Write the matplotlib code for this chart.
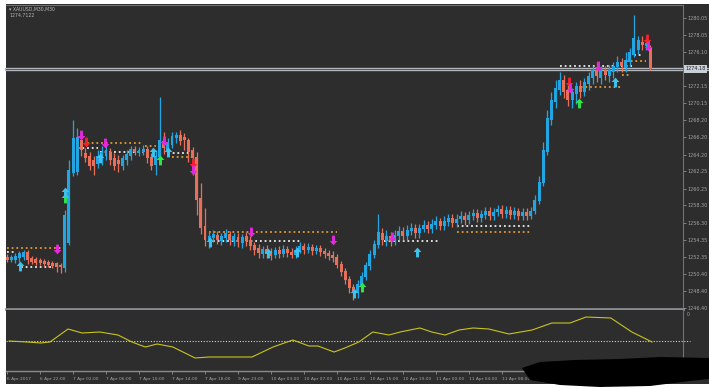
import matplotlib.pyplot as plt
import matplotlib.transforms as mtransforms
from matplotlib.patches import Rectangle, Polygon
from matplotlib.path import Path
import numpy as np

# ---- XAUUSD M30 candles ----
opens = [1252.3, 1252.0, 1252.0, 1252.2, 1252.3, 1252.9, 1252.2, 1252.1, 1252.0, 1251.9,
         1251.7, 1251.6, 1251.6, 1251.4, 1251.0, 1253.9, 1262.1, 1262.2, 1265.9, 1264.4,
         1264.0, 1263.6, 1263.1, 1263.6, 1264.0, 1264.5, 1263.8, 1263.6, 1262.9, 1263.6,
         1264.0, 1264.8, 1264.4, 1264.5, 1264.8, 1263.9, 1263.0, 1263.9, 1265.8, 1264.7,
         1265.3, 1266.1, 1266.5, 1266.2, 1265.9, 1264.7, 1263.9, 1259.2, 1255.9, 1254.1,
         1254.5, 1254.9, 1254.2, 1254.5, 1255.0, 1254.2, 1254.6, 1253.9, 1254.8, 1254.3,
         1253.7, 1253.4, 1252.7, 1253.2, 1252.9, 1252.6, 1253.1, 1252.7, 1253.2, 1252.9,
         1252.6, 1253.1, 1253.6, 1253.1, 1253.5, 1253.0, 1253.4, 1253.0, 1252.8, 1252.6,
         1252.3, 1251.5, 1250.7, 1249.8, 1248.8, 1248.2, 1249.1, 1250.0, 1251.3, 1252.6,
         1253.7, 1255.1, 1254.2, 1254.8, 1254.2, 1254.8, 1255.3, 1254.8, 1255.3, 1255.7,
         1255.1, 1255.6, 1256.0, 1255.6, 1256.0, 1256.5, 1255.9, 1256.4, 1256.8, 1256.3,
         1256.7, 1257.1, 1256.6, 1257.1, 1257.4, 1256.8, 1257.2, 1257.6, 1257.1, 1257.5,
         1257.9, 1257.3, 1257.8, 1257.2, 1257.6, 1257.1, 1257.5, 1257.1, 1257.6, 1258.8,
         1260.9, 1264.5, 1268.2, 1270.3, 1271.7, 1272.8, 1271.7, 1270.5, 1271.2, 1272.2,
         1271.5, 1272.4, 1273.1, 1274.0, 1273.1, 1274.0, 1273.3, 1273.8, 1274.4, 1274.9,
         1274.2, 1274.9, 1275.8, 1276.3, 1277.3, 1276.8, 1276.6]
highs = [1252.7, 1252.6, 1252.8, 1253.0, 1253.1, 1253.1, 1252.4, 1252.3, 1252.2, 1252.1,
         1252.0, 1251.9, 1251.7, 1251.6, 1257.8, 1263.6, 1268.2, 1267.3, 1266.8, 1265.0,
         1264.5, 1264.0, 1264.7, 1265.2, 1265.5, 1265.0, 1264.4, 1264.1, 1264.1, 1264.7,
         1265.2, 1265.2, 1265.1, 1265.3, 1265.2, 1264.4, 1264.7, 1270.9, 1266.8, 1266.1,
         1266.8, 1266.8, 1267.0, 1266.7, 1266.1, 1265.1, 1264.5, 1260.9, 1258.0, 1255.2,
         1255.4, 1255.3, 1255.1, 1255.6, 1255.3, 1255.1, 1255.1, 1255.0, 1255.2, 1254.8,
         1254.1, 1253.8, 1253.6, 1253.7, 1253.4, 1253.5, 1253.6, 1253.7, 1253.6, 1253.4,
         1253.6, 1254.1, 1253.9, 1253.9, 1253.8, 1253.7, 1253.7, 1253.4, 1253.1, 1253.0,
         1252.7, 1251.9, 1251.0, 1250.1, 1249.2, 1249.7, 1250.6, 1251.7, 1253.1, 1254.3,
         1257.3, 1255.7, 1255.4, 1255.2, 1255.4, 1255.9, 1255.8, 1256.0, 1256.3, 1256.1,
         1256.1, 1256.6, 1256.5, 1256.7, 1257.1, 1256.9, 1257.1, 1257.3, 1257.3, 1257.3,
         1257.6, 1257.5, 1257.6, 1257.9, 1257.9, 1257.8, 1258.1, 1258.1, 1258.0, 1258.4,
         1258.4, 1258.2, 1258.2, 1258.1, 1258.0, 1258.0, 1258.0, 1258.1, 1259.5, 1261.7,
         1265.7, 1269.4, 1271.5, 1272.8, 1273.8, 1273.4, 1272.4, 1271.9, 1272.6, 1272.8,
         1273.1, 1273.8, 1274.5, 1274.9, 1274.5, 1274.5, 1274.6, 1274.9, 1275.6, 1275.4,
         1276.1, 1276.6, 1280.4, 1277.9, 1277.9, 1277.7, 1276.9]
lows = [1251.7, 1251.7, 1251.6, 1251.7, 1252.0, 1251.5, 1251.5, 1251.4, 1251.4, 1251.3,
        1251.2, 1251.0, 1250.6, 1250.5, 1250.6, 1253.7, 1261.7, 1261.8, 1264.0, 1263.3,
        1262.4, 1261.8, 1262.6, 1263.0, 1263.6, 1263.0, 1262.4, 1262.2, 1262.4, 1263.0,
        1263.6, 1264.1, 1264.0, 1264.1, 1263.2, 1262.4, 1261.8, 1263.3, 1264.3, 1264.3,
        1265.0, 1265.5, 1265.3, 1264.7, 1263.3, 1261.8, 1257.2, 1255.0, 1253.6, 1253.4,
        1254.1, 1253.8, 1253.7, 1254.1, 1253.7, 1253.6, 1253.5, 1253.4, 1253.6, 1253.1,
        1252.6, 1252.2, 1252.2, 1252.2, 1252.0, 1252.2, 1252.2, 1252.3, 1252.3, 1252.2,
        1252.2, 1252.8, 1252.7, 1252.8, 1252.6, 1252.7, 1252.4, 1252.2, 1252.0, 1251.7,
        1251.0, 1250.1, 1249.2, 1248.2, 1247.3, 1247.6, 1248.5, 1249.7, 1250.8, 1252.2,
        1253.4, 1253.7, 1253.6, 1253.6, 1253.7, 1254.3, 1254.3, 1254.3, 1254.9, 1254.5,
        1254.5, 1255.2, 1255.1, 1255.1, 1255.6, 1255.4, 1255.4, 1255.9, 1255.8, 1255.8,
        1256.3, 1256.0, 1256.1, 1256.6, 1256.4, 1256.4, 1256.7, 1256.6, 1256.6, 1257.1,
        1256.8, 1256.8, 1256.7, 1256.7, 1256.6, 1256.6, 1256.6, 1256.7, 1257.3, 1258.5,
        1260.6, 1264.1, 1267.6, 1269.6, 1271.1, 1270.8, 1269.8, 1269.6, 1270.1, 1270.8,
        1271.0, 1271.7, 1272.4, 1272.6, 1272.4, 1272.8, 1272.6, 1273.1, 1273.8, 1273.8,
        1273.8, 1274.5, 1275.5, 1275.9, 1276.3, 1276.3, 1274.0]
closes = [1252.0, 1252.3, 1252.4, 1252.8, 1252.9, 1252.0, 1251.7, 1251.6, 1251.6, 1251.5,
          1251.4, 1251.3, 1251.2, 1251.2, 1257.2, 1262.4, 1266.1, 1266.2, 1264.7, 1263.8,
          1262.9, 1262.9, 1264.0, 1264.5, 1264.7, 1263.6, 1262.9, 1263.1, 1263.8, 1264.3,
          1264.8, 1264.5, 1264.7, 1264.8, 1263.8, 1262.9, 1264.0, 1265.9, 1265.0, 1265.7,
          1266.4, 1266.5, 1265.8, 1265.9, 1264.5, 1263.8, 1258.9, 1255.7, 1254.3, 1254.8,
          1255.0, 1254.3, 1254.8, 1255.1, 1254.3, 1254.8, 1254.1, 1254.6, 1254.2, 1253.6,
          1253.1, 1252.8, 1253.2, 1252.7, 1252.4, 1253.1, 1252.7, 1253.2, 1252.8, 1252.6,
          1253.1, 1253.6, 1253.1, 1253.5, 1253.0, 1253.4, 1252.9, 1252.7, 1252.4, 1252.2,
          1251.4, 1250.6, 1249.7, 1248.7, 1248.2, 1249.2, 1250.1, 1251.4, 1252.7, 1253.8,
          1255.2, 1254.3, 1254.8, 1254.2, 1254.9, 1255.3, 1254.8, 1255.4, 1255.7, 1255.1,
          1255.7, 1256.0, 1255.6, 1256.1, 1256.5, 1255.9, 1256.5, 1256.8, 1256.3, 1256.7,
          1257.1, 1256.6, 1257.2, 1257.4, 1256.8, 1257.3, 1257.6, 1257.1, 1257.5, 1257.9,
          1257.3, 1257.8, 1257.2, 1257.6, 1257.1, 1257.5, 1257.1, 1257.6, 1258.9, 1261.0,
          1264.7, 1268.4, 1270.5, 1271.9, 1272.8, 1271.5, 1270.5, 1271.5, 1272.2, 1271.5,
          1272.6, 1273.3, 1274.0, 1273.3, 1274.0, 1273.4, 1274.0, 1274.5, 1274.9, 1274.5,
          1275.2, 1276.1, 1277.7, 1277.5, 1276.9, 1277.1, 1274.18]

last_price = 1274.18

# resistance (orange) / support (white) dotted levels: (bar from, bar to, price)
res_levels = [(0, 13, 1253.4), (19.5, 33, 1265.5), (33.5, 36, 1265.2), (40, 45, 1263.9),
              (49, 80, 1255.2), (109, 127, 1255.2), (138, 149, 1272.0), (149, 151, 1273.4),
              (150, 155, 1275.0)]
sup_levels = [(0, 2, 1252.9), (3.5, 11.5, 1251.2), (16, 22, 1265.0), (22.5, 33, 1264.5),
              (39, 44, 1264.4), (50, 71, 1254.2), (91.5, 105, 1254.2), (109, 127, 1255.9),
              (134, 151.5, 1274.5), (152, 154, 1275.8)]

# signal arrows: (bar, price)
buy_cyan = [(3.2, 1251.3), (14, 1259.9), (22.5, 1263.8), (35.4, 1264.5), (39, 1264.5),
            (49.2, 1254.1), (63.3, 1252.8), (70.3, 1252.9), (84.1, 1248.1), (99.4, 1252.9),
            (147.4, 1272.6)]
buy_green = [(14, 1259.2), (37.1, 1263.6), (86, 1248.8), (138.8, 1270.2)]
sell_magenta = [(12.1, 1253.2), (17.9, 1266.5), (23.8, 1265.5), (38.1, 1265.8), (45.1, 1262.4),
                (59.2, 1255.2), (79, 1254.3), (93.3, 1254.6), (136.5, 1271.9), (143.3, 1274.5),
                (155.4, 1276.8)]
sell_red = [(19.2, 1265.7), (45.1, 1263.2), (136.3, 1272.6), (155.2, 1277.6)]

# oscillator in the lower window
ind_x = [0.5, 4.8, 8.2, 10.4, 14.8, 18.2, 22.5, 26.9, 30.3, 33.5, 36.4, 40.2, 45.6, 49.0,
         55.5, 59.4, 64.5, 69.3, 73.2, 75.4, 79.3, 81.9, 85.3, 88.7, 92.6, 95.3, 100.1, 103.0,
         106.2, 109.6, 113.0, 116.8, 121.7, 127.3, 132.1, 136.5, 140.4, 146.4, 151.5, 156.4]
ind_v = [0.0, -0.1, -0.2, -0.1, 1.2, 0.8, 0.9, 0.6, -0.1, -0.6, -0.3, -0.6, -1.7, -1.6,
         -1.6, -1.6, -0.6, 0.1, -0.5, -0.5, -1.1, -0.7, -0.1, 0.9, 0.6, 0.9, 1.3, 0.9,
         0.6, 1.1, 1.3, 1.2, 0.7, 1.1, 1.8, 1.8, 2.4, 2.3, 0.9, -0.1]

yticks = [1246.40, 1248.40, 1250.40, 1252.35, 1254.35, 1256.30, 1258.30, 1260.25, 1262.25,
          1264.20, 1266.20, 1268.20, 1270.15, 1272.15, 1276.10, 1278.05, 1280.05]
xtick_bars = [0, 8, 16, 24, 32, 40, 48, 56, 64, 72, 80, 88, 96, 104, 112, 120, 128]
xtick_labels = ["6 Apr 2017", "6 Apr 22:00", "7 Apr 02:00", "7 Apr 06:00", "7 Apr 10:00",
                "7 Apr 14:00", "7 Apr 18:00", "9 Apr 23:00", "10 Apr 03:00", "10 Apr 07:00",
                "10 Apr 11:00", "10 Apr 15:00", "10 Apr 19:00", "11 Apr 00:00", "11 Apr 04:00",
                "11 Apr 08:00", "11 Apr 12:00"]

BG = '#2d2d2d'
BULL = '#22a5e3'
BEAR = '#e8705a'
GRID = '#878c92'
TXT = '#a3a3a3'

W, H = 709, 389
def fx(px):
    return px / W
def fy(py):
    return 1 - py / H

fig = plt.figure(figsize=(7.09, 3.89), dpi=100)
fig.patch.set_facecolor('white')
fig.add_artist(Rectangle((fx(6), fy(384)), fx(703), 380 / H, transform=fig.transFigure,
                         facecolor=BG, edgecolor='none', zorder=0))

ax = fig.add_axes([fx(6), fy(309), fx(677), 304 / H])
ind = fig.add_axes([fx(6), fy(371), fx(677), 61 / H], sharex=ax)

for a in (ax, ind):
    a.set_facecolor(BG)
    a.spines['left'].set_visible(False)
    for s in ('top', 'right', 'bottom'):
        a.spines[s].set_color('#6e7276')
        a.spines[s].set_linewidth(0.8)
ax.spines['bottom'].set_color(GRID)
ax.spines['bottom'].set_linewidth(2.0)
ind.spines['top'].set_visible(False)
ind.spines['bottom'].set_color(GRID)
ind.spines['bottom'].set_linewidth(1.0)

o = np.array(opens); h = np.array(highs); l = np.array(lows); c = np.array(closes)
x = np.arange(len(c))
cols = np.where(c >= o, BULL, BEAR)
ax.vlines(x, l, h, colors=cols, lw=0.9, zorder=3)
body = np.maximum(np.abs(c - o), 0.09)
ax.bar(x, body, bottom=np.minimum(o, c), width=0.72, color=cols, linewidth=0, zorder=4)

for x0, x1, lv in res_levels:
    ax.hlines(lv, x0, x1, colors='#e09a2c', lw=1.3, linestyles=(0, (1, 1.6)), zorder=2)
for x0, x1, lv in sup_levels:
    ax.hlines(lv, x0, x1, colors='#ececec', lw=1.3, linestyles=(0, (1, 1.6)), zorder=2)

up_arrow = Path([(0, 1), (0.8, 0.1), (0.3, 0.1), (0.3, -1), (-0.3, -1), (-0.3, 0.1), (-0.8, 0.1), (0, 1)],
                [Path.MOVETO] + [Path.LINETO] * 6 + [Path.CLOSEPOLY])
dn_arrow = Path([(vx, -vy) for vx, vy in up_arrow.vertices], up_arrow.codes)

def arrows(pts, marker, color):
    ax.plot([p[0] for p in pts], [p[1] for p in pts], ls='none', marker=marker,
            markersize=7, color=color, markeredgewidth=0, zorder=6)

arrows(buy_green, up_arrow, '#2ee84a')
arrows(buy_cyan, up_arrow, '#3cc4f0')
arrows(sell_red, dn_arrow, '#f2222a')
arrows(sell_magenta, dn_arrow, '#e428dc')

# current price line + label
trans = mtransforms.blended_transform_factory(ax.transAxes, ax.transData)
ax.plot([0, 1.04], [last_price, last_price], transform=trans, color='#b4b8bc', lw=2.4,
        clip_on=False, zorder=1)
ax.plot([0, 1.04], [last_price, last_price], transform=trans, color='#4a4a4a', lw=0.6,
        clip_on=False, zorder=1)
ax.text(1.004, last_price, '%.2f' % last_price, transform=trans, ha='left', va='center',
        fontsize=3.5, color='#222222', zorder=7,
        bbox=dict(boxstyle='square,pad=0.3', fc='#c8d0da', ec='none'))

ax.set_xlim(-0.25, 163.9)
ax.set_ylim(1246.29, 1281.55)
ax.yaxis.tick_right()
ax.set_yticks(yticks)
ax.set_yticklabels(['%.2f' % v for v in yticks])
ax.tick_params(axis='y', labelsize=3.5, colors=TXT, length=2, pad=1.5, width=0.5)
ax.tick_params(axis='x', bottom=False, labelbottom=False)

# lower window
ind.plot(ind_x, ind_v, color='#c9c31f', lw=0.8, zorder=3)
ind.plot([0, 1.01], [0, 0], transform=mtransforms.blended_transform_factory(ind.transAxes, ind.transData),
         color='#d6d6d6', lw=0.8, ls=(0, (1, 1.5)), clip_on=False, zorder=2)
ind.set_ylim(-3.0, 3.1)
ind.set_yticks([])
ind.text(1.006, 0.93, '0', transform=ind.transAxes, fontsize=3.3, color=TXT, va='center')
ind.set_xticks(xtick_bars)
ind.set_xticklabels(xtick_labels, ha='left')
ind.tick_params(axis='x', labelsize=3.2, colors=TXT, length=2, pad=2, width=0.5)

fig.text(fx(9), fy(9), '\u25be XAUUSD,M30,M30', fontsize=3.3, color='#b8b8b8', va='center')
fig.text(fx(9), fy(15.5), '1274.7122', fontsize=3.3, color='#b8b8b8', va='center')

# redaction scribble over the bottom-right corner
scrib = [(522, 368), (540, 362), (575, 360), (620, 359), (660, 357), (709, 358), (709, 379),
         (690, 381), (650, 386), (600, 387), (560, 385), (530, 380)]
fig.add_artist(Polygon([(fx(px), fy(py)) for px, py in scrib], closed=True,
                       transform=fig.transFigure, facecolor='black', edgecolor='none', zorder=10))

fig.savefig('out.png', dpi=100, facecolor=fig.get_facecolor())
